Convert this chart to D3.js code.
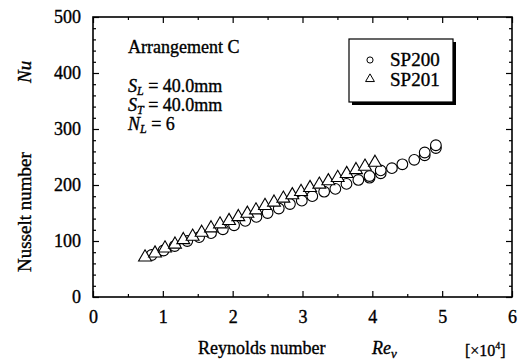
<!DOCTYPE html>
<html>
<head>
<meta charset="utf-8">
<script src="https://cdn.jsdelivr.net/npm/d3@7"></script>
<style>
  body { margin: 0; background: #fff; }
  svg { font-family: "Liberation Serif", "Times New Roman", serif; }
  text { stroke: #000; stroke-width: 0.35; }
  .tick text { font-size: 18px; fill: #000; font-family: "Liberation Serif", serif; }
  .tick line { stroke: #000; stroke-width: 1.2; }
</style>
</head>
<body>
<div id="chart"></div>
<script>
// SP200 (circles)
const reSP200 = [0.84, 1.01, 1.17, 1.35, 1.52, 1.69, 1.86, 2.02, 2.18, 2.34, 2.50, 2.66, 2.82, 2.99, 3.14,
  3.31, 3.47, 3.63, 3.80, 3.96, 3.96, 4.12, 4.12, 4.28, 4.43, 4.60, 4.75, 4.75, 4.91, 4.91];
const nuSP200 = [75, 83, 91, 100, 107, 114, 121, 128, 136, 143, 150, 158, 166, 172, 180,
  188, 193, 202, 209, 213, 216, 221, 226, 230, 237, 245, 253, 258, 266, 271];

// SP201 (triangles)
const reSP201 = [0.745, 0.888, 1.031, 1.174, 1.293, 1.427, 1.556, 1.69, 1.819, 1.948, 2.081, 2.21, 2.334,
  2.463, 2.592, 2.726, 2.854, 2.979, 3.108, 3.241, 3.37, 3.504, 3.633, 3.766, 3.895, 4.038];
const nuSP201 = [71, 78, 87, 94, 102, 108, 115, 123, 130, 136, 143, 149, 155,
  163, 169, 176, 182, 188, 195, 201, 207, 213, 220, 227, 233, 240];

const xTicks = [0, 1, 2, 3, 4, 5, 6];
const yTicks = [0, 100, 200, 300, 400, 500];
const seriesNames = ["SP200", "SP201"];

const width = 520, height = 363;
const margin = { left: 93, right: 8, top: 17, bottom: 66 };
const innerW = width - margin.left - margin.right;
const innerH = height - margin.top - margin.bottom;

const svg = d3.select("#chart").append("svg")
  .attr("width", width).attr("height", height);

const g = svg.append("g").attr("transform", `translate(${margin.left},${margin.top})`);

const x = d3.scaleLinear().domain([0, 6]).range([0, innerW]);
const y = d3.scaleLinear().domain([0, 500]).range([innerH, 0]);

const xMinor = d3.range(0, 6.01, 0.5).filter(v => v % 1 !== 0);
const yMinor = d3.range(0, 501, 20).filter(v => v % 100 !== 0);

// helper: strip the default sans-serif + domain line from an axis
const clean = a => { a.attr("font-family", null).attr("font-size", null); a.select(".domain").remove(); };

// bottom axis (ticks point inward)
g.append("g").attr("transform", `translate(0,${innerH})`)
  .call(d3.axisBottom(x).tickValues(xTicks).tickSize(-6).tickPadding(13).tickFormat(d3.format("d")))
  .call(clean);
g.append("g").attr("transform", `translate(0,${innerH})`)
  .call(d3.axisBottom(x).tickValues(xMinor).tickSize(-3).tickFormat(""))
  .call(clean);
// top axis
g.append("g")
  .call(d3.axisTop(x).tickValues(xTicks).tickSize(-6).tickFormat(""))
  .call(clean);
g.append("g")
  .call(d3.axisTop(x).tickValues(xMinor).tickSize(-3).tickFormat(""))
  .call(clean);
// left axis
g.append("g")
  .call(d3.axisLeft(y).tickValues(yTicks).tickSize(-6).tickPadding(12).tickFormat(d3.format("d")))
  .call(clean);
g.append("g")
  .call(d3.axisLeft(y).tickValues(yMinor).tickSize(-3).tickFormat(""))
  .call(clean);
// right axis
g.append("g").attr("transform", `translate(${innerW},0)`)
  .call(d3.axisRight(y).tickValues(yTicks).tickSize(-6).tickFormat(""))
  .call(clean);
g.append("g").attr("transform", `translate(${innerW},0)`)
  .call(d3.axisRight(y).tickValues(yMinor).tickSize(-3).tickFormat(""))
  .call(clean);

// frame
g.append("rect")
  .attr("width", innerW).attr("height", innerH)
  .attr("fill", "none").attr("stroke", "#000").attr("stroke-width", 1.6);

// markers
const circleSym = d3.symbol().type(d3.symbolCircle).size(90);
const triSym = d3.symbol().type(d3.symbolTriangle).size(72);

g.selectAll(".sp200")
  .data(reSP200.map((r, i) => ({ r, nu: nuSP200[i] })))
  .join("path")
    .attr("class", "sp200")
    .attr("d", circleSym)
    .attr("transform", d => `translate(${x(d.r)},${y(d.nu)})`)
    .attr("fill", "#fff").attr("stroke", "#000").attr("stroke-width", 1.1);

g.selectAll(".sp201")
  .data(reSP201.map((r, i) => ({ r, nu: nuSP201[i] })))
  .join("path")
    .attr("class", "sp201")
    .attr("d", triSym)
    .attr("transform", d => `translate(${x(d.r)},${y(d.nu)})`)
    .attr("fill", "#fff").attr("stroke", "#000").attr("stroke-width", 1.1);

// annotation text
const ann = svg.append("g").attr("font-size", 18);
ann.append("text").attr("x", 128).attr("y", 53).text("Arrangement C");
const params = [["S", "L", "= 40.0mm"], ["S", "T", "= 40.0mm"], ["N", "L", "= 6"]];
params.forEach((p, i) => {
  const t = ann.append("text").attr("x", 128).attr("y", 92 + i * 19);
  t.append("tspan").attr("font-style", "italic").text(p[0]);
  t.append("tspan").attr("font-style", "italic").attr("font-size", 12).attr("dy", 3).text(p[1]);
  t.append("tspan").attr("dy", -3).text(" " + p[2]);
});

// legend
const lg = svg.append("g").attr("transform", "translate(349,39)");
lg.append("rect").attr("x", 3).attr("y", 3).attr("width", 104).attr("height", 63).attr("fill", "#000");
lg.append("rect").attr("width", 104).attr("height", 63)
  .attr("fill", "#fff").attr("stroke", "#000").attr("stroke-width", 1.2);
seriesNames.forEach((name, i) => {
  const sym = i === 0 ? d3.symbol().type(d3.symbolCircle).size(30) : d3.symbol().type(d3.symbolTriangle).size(34);
  lg.append("path").attr("d", sym)
    .attr("transform", `translate(21,${21 + i * 19})`)
    .attr("fill", "none").attr("stroke", "#000").attr("stroke-width", 1);
  lg.append("text").attr("x", 41).attr("y", 27 + i * 20).attr("font-size", 19).text(name);
});

// axis titles
const xt = svg.append("text").attr("y", 354).attr("font-size", 18);
xt.append("tspan").attr("x", 198).text("Reynolds number");
xt.append("tspan").attr("x", 372).attr("font-style", "italic").text("Re");
xt.append("tspan").attr("font-style", "italic").attr("font-size", 13).attr("dy", 4).text("v");
const unit = svg.append("text").attr("x", 465).attr("y", 356).attr("font-size", 16);
unit.append("tspan").text("[×10");
unit.append("tspan").attr("font-size", 10).attr("dy", -7).text("4");
unit.append("tspan").attr("dy", 7).text("]");

svg.append("text").attr("transform", "translate(31,272) rotate(-90)")
  .attr("font-size", 19).text("Nusselt number");
svg.append("text").attr("transform", "translate(31,83) rotate(-90)")
  .attr("font-size", 19).attr("font-style", "italic").text("Nu");
</script>
</body>
</html>
